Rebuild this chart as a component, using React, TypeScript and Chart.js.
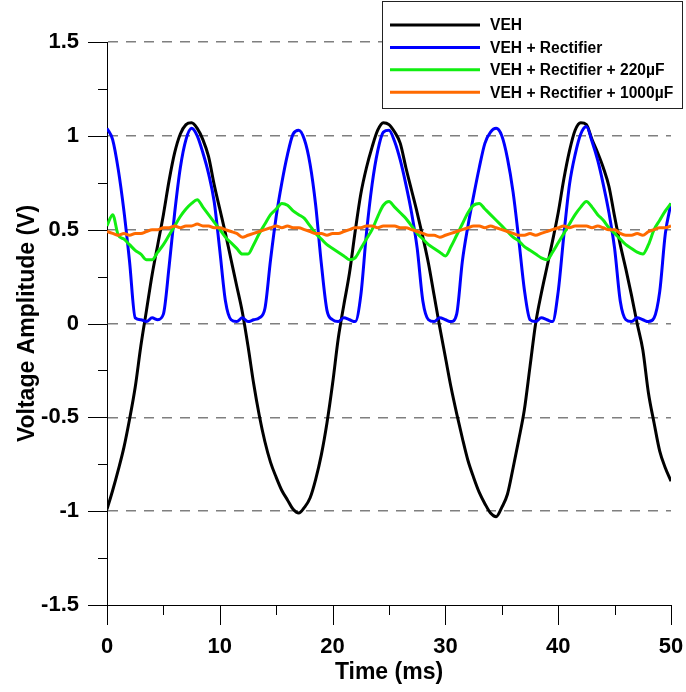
import { useEffect, useRef } from 'react';
import { Chart, registerables } from 'chart.js';

Chart.register(...registerables);

// Time axis (ms)
const timeMs = [
  0, 0.5, 1, 1.5, 2, 2.5, 3, 3.5, 4, 4.5,
  5, 5.5, 6, 6.5, 7, 7.5, 8, 8.5, 9, 9.5,
  10, 10.5, 11, 11.5, 12, 12.5, 13, 13.5, 14, 14.5,
  15, 15.5, 16, 16.5, 17, 17.5, 18, 18.5, 19, 19.5,
  20, 20.5, 21, 21.5, 22, 22.5, 23, 23.5, 24, 24.5,
  25, 25.5, 26, 26.5, 27, 27.5, 28, 28.5, 29, 29.5,
  30, 30.5, 31, 31.5, 32, 32.5, 33, 33.5, 34, 34.5,
  35, 35.5, 36, 36.5, 37, 37.5, 38, 38.5, 39, 39.5,
  40, 40.5, 41, 41.5, 42, 42.5, 43, 43.5, 44, 44.5,
  45, 45.5, 46, 46.5, 47, 47.5, 48, 48.5, 49, 49.5,
  50,
];

// VEH (V)
const vehValues = [
  -0.99, -0.89, -0.78, -0.66, -0.51, -0.34, -0.12, 0.07, 0.26, 0.42,
  0.58, 0.76, 0.91, 1.01, 1.06, 1.07, 1.04, 0.98, 0.89, 0.74,
  0.61, 0.48, 0.34, 0.2, 0.06, -0.12, -0.32, -0.49, -0.63, -0.74,
  -0.82, -0.89, -0.94, -0.99, -1.01, -0.98, -0.93, -0.83, -0.7, -0.53,
  -0.32, -0.08, 0.1, 0.27, 0.49, 0.69, 0.83, 0.94, 1.03, 1.07,
  1.06, 1.02, 0.96, 0.83, 0.71, 0.59, 0.46, 0.32, 0.15, -0.02,
  -0.18, -0.34, -0.48, -0.61, -0.73, -0.82, -0.9, -0.96, -1.01, -1.03,
  -0.98, -0.91, -0.77, -0.62, -0.46, -0.23, 0.0, 0.16, 0.3, 0.44,
  0.59, 0.77, 0.92, 1.03, 1.07, 1.06, 0.98, 0.91, 0.83, 0.73,
  0.57, 0.42, 0.29, 0.15, 0.0, -0.14, -0.37, -0.53, -0.68, -0.77,
  -0.84,
];

// VEH + Rectifier (V)
const rectifierValues = [
  1.04, 0.98, 0.82, 0.6, 0.33, 0.03, 0.02, 0.01, 0.03, 0.02,
  0.05, 0.3, 0.59, 0.83, 0.98, 1.04, 1.0, 0.91, 0.8, 0.65,
  0.39, 0.12, 0.02, 0.01, 0.03, 0.01, 0.02, 0.03, 0.08, 0.34,
  0.57, 0.75, 0.9, 1.01, 1.03, 0.98, 0.85, 0.63, 0.32, 0.07,
  0.02, 0.01, 0.03, 0.02, 0.01, 0.15, 0.48, 0.74, 0.92, 1.02,
  1.03, 0.97, 0.87, 0.74, 0.59, 0.4, 0.12, 0.02, 0.01, 0.03,
  0.02, 0.01, 0.05, 0.33, 0.52, 0.68, 0.83, 0.96, 1.02, 1.04,
  1.0, 0.88, 0.7, 0.45, 0.18, 0.02, 0.01, 0.03, 0.02, 0.01,
  0.17, 0.47, 0.74, 0.9, 1.01, 1.05, 0.97, 0.87, 0.74, 0.59,
  0.4, 0.12, 0.02, 0.01, 0.03, 0.02, 0.01, 0.03, 0.17, 0.48,
  0.64,
];

// VEH + Rectifier + 220µF (V)
const cap220Values = [
  0.52, 0.58, 0.47, 0.45, 0.42, 0.39, 0.37, 0.34, 0.34, 0.38,
  0.42, 0.47, 0.52, 0.57, 0.61, 0.64, 0.66, 0.62, 0.58, 0.54,
  0.5, 0.46, 0.43, 0.4, 0.37, 0.37, 0.42, 0.48, 0.53, 0.58,
  0.61, 0.64, 0.63, 0.6, 0.58, 0.56, 0.52, 0.48, 0.45, 0.42,
  0.4, 0.38, 0.36, 0.34, 0.35, 0.4, 0.45, 0.5, 0.57, 0.63,
  0.65, 0.62, 0.59, 0.56, 0.52, 0.48, 0.45, 0.42, 0.4, 0.38,
  0.36, 0.41, 0.47, 0.53, 0.59, 0.63, 0.64, 0.61, 0.58, 0.55,
  0.52, 0.49, 0.46, 0.44, 0.41, 0.39, 0.37, 0.35, 0.34, 0.38,
  0.43, 0.48, 0.53, 0.58, 0.62, 0.65, 0.62, 0.58, 0.55, 0.51,
  0.48, 0.45, 0.42, 0.4, 0.38, 0.37, 0.42, 0.5, 0.55, 0.6,
  0.64,
];

// VEH + Rectifier + 1000µF (V)
const cap1000Values = [
  0.49, 0.48, 0.47, 0.48, 0.47, 0.48, 0.48, 0.49, 0.5, 0.5,
  0.51, 0.51, 0.52, 0.51, 0.52, 0.52, 0.53, 0.52, 0.52, 0.51,
  0.51, 0.5, 0.49, 0.48, 0.46, 0.47, 0.48, 0.49, 0.5, 0.51,
  0.52, 0.51, 0.52, 0.51, 0.51, 0.5, 0.49, 0.48, 0.48, 0.47,
  0.48, 0.48, 0.49, 0.5, 0.51, 0.51, 0.52, 0.52, 0.51, 0.52,
  0.52, 0.52, 0.51, 0.51, 0.5, 0.49, 0.48, 0.47, 0.47, 0.46,
  0.47, 0.48, 0.49, 0.5, 0.51, 0.52, 0.52, 0.51, 0.52, 0.51,
  0.5, 0.49, 0.48, 0.47, 0.47, 0.48, 0.47, 0.48, 0.49, 0.5,
  0.51, 0.52, 0.51, 0.52, 0.52, 0.52, 0.51, 0.52, 0.51, 0.5,
  0.5, 0.48, 0.47, 0.47, 0.48, 0.47, 0.49, 0.5, 0.51, 0.51,
  0.52,
];

const seriesLabels = [
  'VEH',
  'VEH + Rectifier',
  'VEH + Rectifier + 220µF',
  'VEH + Rectifier + 1000µF',
];
const seriesColors = ['#000000', '#0000ff', '#11ee11', '#ff6a00'];

const FONT = '"Liberation Sans", Arial, Helvetica, sans-serif';

const isMultiple = (v: number, step: number) =>
  Math.abs(v / step - Math.round(v / step)) < 1e-6;

const toPoints = (vals: number[]) => vals.map((y, i) => ({ x: timeMs[i], y }));

const tickMarksPlugin = {
  id: 'tickMarks',
  afterDraw(chart: any) {
    const ctx = chart.ctx;
    const xs = chart.scales.x;
    const ys = chart.scales.y;
    ctx.save();
    ctx.strokeStyle = '#000';
    ctx.lineWidth = 1;
    ctx.beginPath();
    xs.ticks.forEach((t: any) => {
      const px = Math.round(xs.getPixelForValue(t.value)) + 0.5;
      const len = isMultiple(t.value, 10) ? 20 : 10;
      ctx.moveTo(px, xs.top);
      ctx.lineTo(px, xs.top + len);
    });
    ys.ticks.forEach((t: any) => {
      const py = Math.round(ys.getPixelForValue(t.value)) + 0.5;
      const len = isMultiple(t.value, 0.5) ? 19 : 9;
      ctx.moveTo(ys.right, py);
      ctx.lineTo(ys.right - len, py);
    });
    ctx.stroke();
    ctx.restore();
  },
};

const boxLegendPlugin = {
  id: 'boxLegend',
  afterDraw(chart: any) {
    const ctx = chart.ctx;
    const x0 = 382;
    const y0 = 1;
    const w = 301;
    const h = 108;
    ctx.save();
    ctx.fillStyle = '#ffffff';
    ctx.fillRect(x0, y0, w, h);
    ctx.strokeStyle = '#222';
    ctx.lineWidth = 1;
    ctx.strokeRect(x0 + 0.5, y0 + 0.5, w - 1, h - 1);
    chart.data.datasets.forEach((ds: any, i: number) => {
      const y = y0 + 24 + i * 22.4;
      ctx.strokeStyle = ds.borderColor;
      ctx.lineWidth = 3;
      ctx.beginPath();
      ctx.moveTo(x0 + 8, y);
      ctx.lineTo(x0 + 98, y);
      ctx.stroke();
      ctx.fillStyle = '#000';
      ctx.font = `bold 15.6px ${FONT}`;
      ctx.textBaseline = 'middle';
      ctx.textAlign = 'left';
      ctx.fillText(ds.label, x0 + 108, y + 1);
    });
    ctx.restore();
  },
};

export default function App() {
  const ref = useRef<HTMLCanvasElement>(null);

  useEffect(() => {
    document.body.style.margin = '0';
    const canvas = ref.current;
    if (!canvas) return;
    const allValues = [vehValues, rectifierValues, cap220Values, cap1000Values];
    const chart = new Chart(canvas, {
      type: 'line',
      data: {
        datasets: allValues.map((vals, i) => ({
          label: seriesLabels[i],
          data: toPoints(vals),
          borderColor: seriesColors[i],
          backgroundColor: seriesColors[i],
          borderWidth: 3,
          pointRadius: 0,
          fill: false,
          cubicInterpolationMode: 'monotone' as const,
          borderJoinStyle: 'round' as const,
          order: 3 - i,
        })),
      },
      options: {
        animation: false,
        responsive: false,
        events: [],
        layout: { padding: { left: 0, right: 15, top: 42, bottom: 0 } },
        plugins: {
          legend: { display: false },
          tooltip: { enabled: false },
        },
        scales: {
          x: {
            type: 'linear',
            min: 0,
            max: 50,
            afterFit: (s: any) => {
              s.height = 87;
              s.paddingLeft = 0;
              s.paddingRight = 0;
            },
            ticks: {
              stepSize: 5,
              autoSkip: false,
              maxRotation: 0,
              padding: 9,
              color: '#000',
              font: { family: FONT, size: 22, weight: 'bold' },
              callback: (v: any) => (isMultiple(Number(v), 10) ? String(v) : ''),
            },
            grid: {
              drawOnChartArea: false,
              drawTicks: true,
              tickLength: 20,
              tickColor: 'transparent',
            },
            border: { color: '#000', width: 1 },
            title: {
              display: true,
              text: 'Time (ms)',
              color: '#000',
              font: { family: FONT, size: 23, weight: 'bold' },
              padding: { top: 0, bottom: 6 },
            },
          },
          y: {
            type: 'linear',
            min: -1.5,
            max: 1.5,
            afterFit: (s: any) => {
              s.width = 107;
              s.paddingTop = 0;
              s.paddingBottom = 0;
            },
            ticks: {
              stepSize: 0.25,
              autoSkip: false,
              padding: 9,
              color: '#000',
              font: { family: FONT, size: 22, weight: 'bold' },
              callback: (v: any) => {
                const n = Number(v);
                return isMultiple(n, 0.5) ? String(Math.round(n * 10) / 10) : '';
              },
            },
            grid: {
              color: (c: any) =>
                c.tick && isMultiple(c.tick.value, 0.5) && c.tick.value > -1.4
                  ? '#7f7f7f'
                  : 'transparent',
              lineWidth: 1.5,
              drawTicks: true,
              tickLength: 19,
              tickColor: 'transparent',
            },
            border: { color: '#000', width: 1, dash: [10, 8] },
            title: {
              display: true,
              text: 'Voltage Amplitude (V)',
              color: '#000',
              font: { family: FONT, size: 23, weight: 'bold' },
              padding: { top: 14, bottom: 0 },
            },
          },
        },
      },
      plugins: [tickMarksPlugin, boxLegendPlugin],
    } as any);
    return () => chart.destroy();
  }, []);

  return (
    <div style={{ width: 686, height: 692 }}>
      <canvas ref={ref} width={686} height={692} style={{ display: 'block' }} />
    </div>
  );
}
